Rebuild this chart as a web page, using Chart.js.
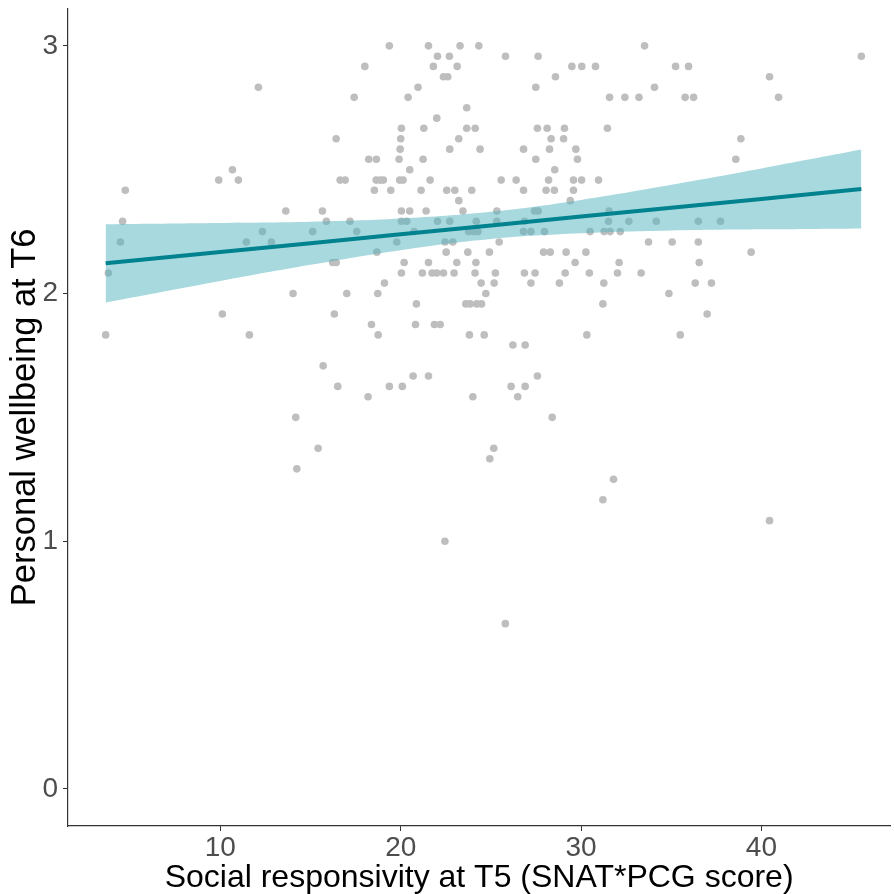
<!DOCTYPE html>
<html>
<head>
<meta charset="utf-8">
<script src="https://cdn.jsdelivr.net/npm/chart.js@4.4.1/dist/chart.umd.min.js"></script>
<style>
html,body{margin:0;padding:0;background:#fff;}
#wrap{width:894px;height:894px;}
</style>
</head>
<body>
<div id="wrap"><canvas id="c" width="894" height="894"></canvas></div>
<script>
// ---- data ----
const xTicks = [10, 20, 30, 40];
const yTicks = [0, 1, 2, 3];
const xTitle = "Social responsivity at T5 (SNAT*PCG score)";
const yTitle = "Personal wellbeing at T6";

// scatter points (x, y pairs)
const pointX = [
  19.37,21.54,23.29,24.33,33.52,
  22.04,22.7,25.81,27.62,45.54,
  18.01,21.81,23.13,29.49,30.04,30.8,35.24,35.96,
  22.37,22.61,28.58,40.45,
  12.11,20.96,27.49,34.07,
  17.42,20.41,31.58,32.43,33.21,35.77,36.24,40.95,
  23.66,
  22.0,
  20.04,21.28,23.66,24.13,27.58,28.12,29.08,31.46,
  16.42,20.0,23.22,28.34,29.03,38.86,
  19.97,22.72,24.4,26.81,28.25,29.71,
  18.23,18.65,19.91,21.24,27.49,29.8,38.58,
  10.67,20.5,28.54,
  9.91,11.0,16.64,16.92,18.64,18.86,19.04,19.94,20.13,21.63,25.57,26.4,28.2,29.58,30.03,30.97,
  4.73,18.54,19.45,21.13,22.55,23.0,23.94,26.81,28.06,28.52,29.58,
  23.22,29.4,
  13.63,15.66,20.04,20.5,21.41,23.45,25.33,27.42,27.62,31.55,
  4.58,15.88,17.19,20.04,20.33,22.04,22.72,24.19,25.33,26.86,31.52,32.65,34.17,36.5,37.73,
  12.33,15.12,17.56,20.74,23.76,24.03,24.28,26.81,27.22,27.97,30.5,31.28,31.61,32.17,
  4.46,11.44,12.83,19.78,22.46,22.89,25.46,33.74,35.05,36.5,
  18.68,22.52,23.72,24.92,27.92,28.29,29.17,30.27,39.43,
  16.23,16.42,20.19,21.54,23.11,24.17,29.67,32.11,36.55,
  3.79,20.04,21.2,21.74,22.0,22.37,22.96,24.12,25.25,26.86,27.45,29.12,30.46,32.02,33.33,
  19.1,24.46,25.18,27.22,28.8,31.26,36.33,37.23,
  14.03,17.01,18.73,24.72,34.87,
  20.87,23.61,23.85,24.22,24.48,31.21,
  10.11,16.32,36.99,
  18.38,20.82,21.87,22.19,
  3.64,11.61,18.75,23.81,24.63,30.32,35.5,
  26.22,26.9,
  15.70,
  20.69,21.54,27.58,
  16.51,19.37,20.09,26.12,26.9,
  18.19,24.0,26.49,
  14.18,28.40,
  15.42,25.16,
  24.94,
  14.24,
  31.8,
  31.21,
  40.45,
  22.45,
  25.8
];
const pointY = [
  3,3,3,3,3,
  2.958,2.958,2.958,2.958,2.958,
  2.917,2.917,2.917,2.917,2.917,2.917,2.917,2.917,
  2.875,2.875,2.875,2.875,
  2.833,2.833,2.833,2.833,
  2.792,2.792,2.792,2.792,2.792,2.792,2.792,2.792,
  2.75,
  2.708,
  2.667,2.667,2.667,2.667,2.667,2.667,2.667,2.667,
  2.625,2.625,2.625,2.625,2.625,2.625,
  2.583,2.583,2.583,2.583,2.583,2.583,
  2.542,2.542,2.542,2.542,2.542,2.542,2.542,
  2.5,2.5,2.5,
  2.458,2.458,2.458,2.458,2.458,2.458,2.458,2.458,2.458,2.458,2.458,2.458,2.458,2.458,2.458,2.458,
  2.417,2.417,2.417,2.417,2.417,2.417,2.417,2.417,2.417,2.417,2.417,
  2.375,2.375,
  2.333,2.333,2.333,2.333,2.333,2.333,2.333,2.333,2.333,2.333,
  2.292,2.292,2.292,2.292,2.292,2.292,2.292,2.292,2.292,2.292,2.292,2.292,2.292,2.292,2.292,
  2.25,2.25,2.25,2.25,2.25,2.25,2.25,2.25,2.25,2.25,2.25,2.25,2.25,2.25,
  2.208,2.208,2.208,2.208,2.208,2.208,2.208,2.208,2.208,2.208,
  2.167,2.167,2.167,2.167,2.167,2.167,2.167,2.167,2.167,
  2.125,2.125,2.125,2.125,2.125,2.125,2.125,2.125,2.125,
  2.083,2.083,2.083,2.083,2.083,2.083,2.083,2.083,2.083,2.083,2.083,2.083,2.083,2.083,2.083,
  2.042,2.042,2.042,2.042,2.042,2.042,2.042,2.042,
  2,2,2,2,2,
  1.958,1.958,1.958,1.958,1.958,1.958,
  1.917,1.917,1.917,
  1.875,1.875,1.875,1.875,
  1.833,1.833,1.833,1.833,1.833,1.833,1.833,
  1.792,1.792,
  1.708,
  1.667,1.667,1.667,
  1.625,1.625,1.625,1.625,1.625,
  1.583,1.583,1.583,
  1.5,1.5,
  1.375,1.375,
  1.333,
  1.292,
  1.25,
  1.167,
  1.083,
  1.0,
  0.667
];

// fitted line and its confidence band, read at several x positions
const fitX     = [3.64, 10,    15,    20,    25,    30,    35,    40,    45.54];
const fitY     = [2.122,2.168, 2.203, 2.239, 2.275, 2.311, 2.346, 2.382, 2.422];
const bandUpper= [2.280,2.285, 2.290, 2.303, 2.330, 2.378, 2.439, 2.505, 2.581];
const bandLower= [1.964,2.051, 2.116, 2.175, 2.220, 2.243, 2.254, 2.259, 2.263];

// ---- build chart ----
const pts = pointX.map((x, i) => ({x: x, y: pointY[i]}));
const toXY = (ys) => fitX.map((x, i) => ({x: x, y: ys[i]}));

const FONT = "'Liberation Sans', Arial, sans-serif";
const AXIS_COL = '#333333';

new Chart(document.getElementById('c'), {
  type: 'scatter',
  data: {
    datasets: [
      {
        label: 'points', data: pts, order: 5,
        pointRadius: 3.8, pointHoverRadius: 3.8,
        pointBackgroundColor: '#BEBEBE', pointBorderWidth: 0, borderWidth: 0, showLine: false
      },
      {
        label: 'lower', type: 'line', data: toXY(bandLower), order: 3,
        borderWidth: 0, pointRadius: 0, fill: false, tension: 0.4, borderColor: 'rgba(0,0,0,0)'
      },
      {
        label: 'upper', type: 'line', data: toXY(bandUpper), order: 2,
        borderWidth: 0, pointRadius: 0, fill: '-1', tension: 0.4,
        borderColor: 'rgba(0,0,0,0)', backgroundColor: 'rgba(80,180,190,0.5)'
      },
      {
        label: 'fit', type: 'line', data: toXY(fitY), order: 1,
        borderWidth: 4, pointRadius: 0, fill: false, tension: 0,
        borderColor: 'rgb(0,130,143)'
      }
    ]
  },
  options: {
    responsive: false,
    animation: false,
    devicePixelRatio: 1,
    layout: {padding: {top: 8.7, right: 0, left: 0, bottom: 0}},
    plugins: {legend: {display: false}, tooltip: {enabled: false}},
    events: [],
    scales: {
      x: {
        type: 'linear', min: 1.553, max: 47.14,
        afterBuildTicks: (s) => { s.ticks = xTicks.map(v => ({value: v})); },
        afterFit: (s) => { s.height = 68; s.paddingLeft = 0; s.paddingRight = 0; },
        grid: {drawOnChartArea: false, drawTicks: true, tickLength: 5, color: AXIS_COL, lineWidth: 1},
        border: {display: true, color: AXIS_COL, width: 1.2},
        ticks: {font: {family: FONT, size: 28}, color: '#4D4D4D', padding: 0, maxRotation: 0},
        title: {display: true, text: xTitle, font: {family: FONT, size: 32}, color: '#000', padding: {top: 0, bottom: -3}}
      },
      y: {
        type: 'linear', min: -0.15, max: 3.15,
        afterBuildTicks: (s) => { s.ticks = yTicks.map(v => ({value: v})); },
        afterFit: (s) => { s.width = 68; s.paddingTop = 0; s.paddingBottom = 0; },
        grid: {drawOnChartArea: false, drawTicks: true, tickLength: 5, color: AXIS_COL, lineWidth: 1},
        border: {display: true, color: AXIS_COL, width: 1.2},
        ticks: {font: {family: FONT, size: 28}, color: '#4D4D4D', padding: 5},
        title: {display: true, text: yTitle, font: {family: FONT, size: 34.5}, color: '#000', padding: {top: 5, bottom: 0}}
      }
    }
  }
});
</script>
</body>
</html>
